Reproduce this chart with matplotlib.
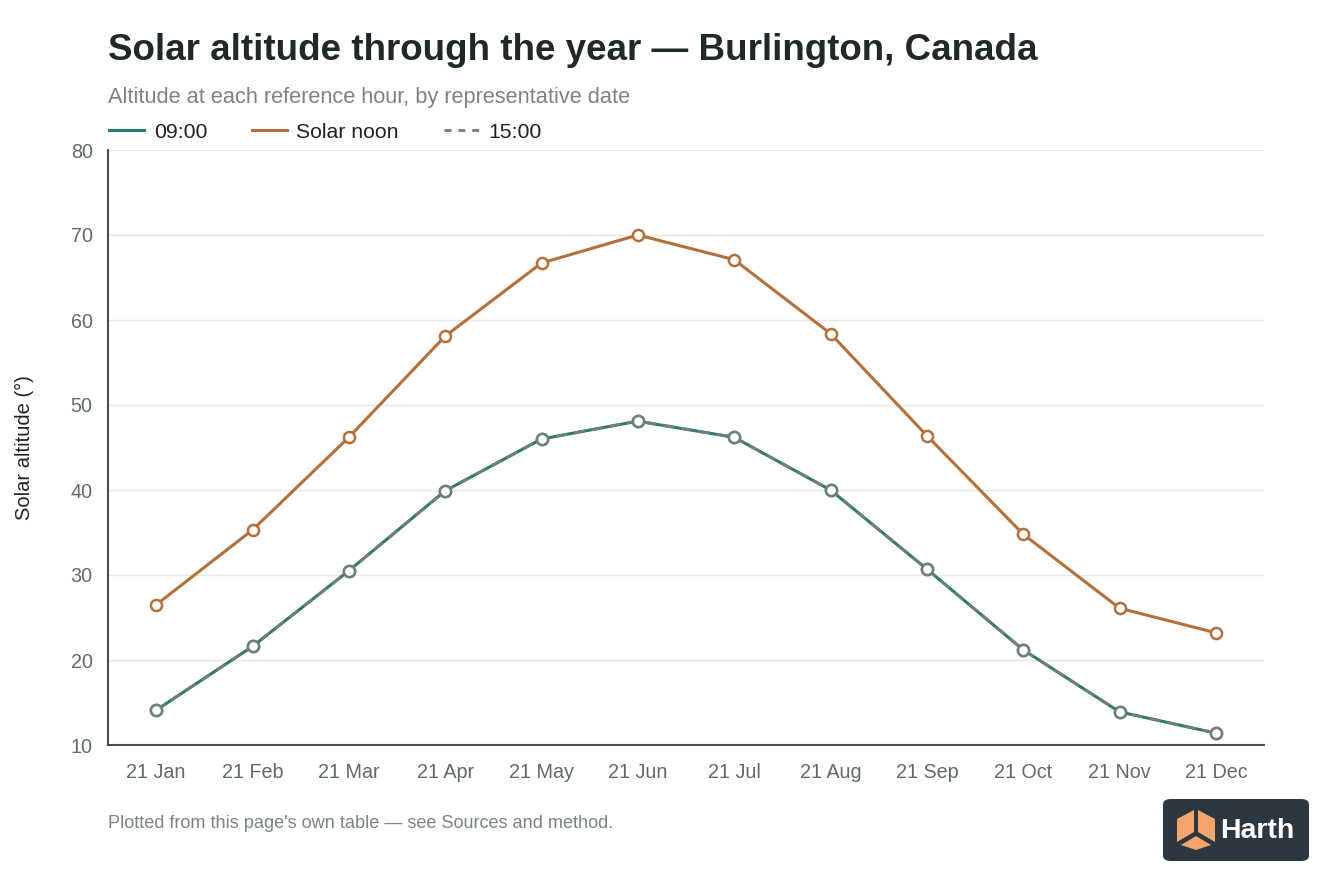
import matplotlib
matplotlib.use("Agg")
import matplotlib.pyplot as plt
from matplotlib.patches import FancyBboxPatch, Polygon
from matplotlib.lines import Line2D

months = ["21 Jan", "21 Feb", "21 Mar", "21 Apr", "21 May", "21 Jun",
          "21 Jul", "21 Aug", "21 Sep", "21 Oct", "21 Nov", "21 Dec"]
alt_0900 = [14.1, 21.6, 30.5, 39.9, 46.0, 48.1, 46.2, 40.0, 30.7, 21.2, 13.9, 11.4]
alt_noon = [26.5, 35.3, 46.2, 58.1, 66.7, 70.0, 67.1, 58.4, 46.4, 34.8, 26.1, 23.2]
alt_1500 = [14.1, 21.6, 30.5, 39.9, 46.0, 48.1, 46.2, 40.0, 30.7, 21.2, 13.9, 11.4]
yticks = [10, 20, 30, 40, 50, 60, 70, 80]

plt.rcParams['font.family'] = ['Liberation Sans', 'DejaVu Sans']

W, H = 1344, 896
fig = plt.figure(figsize=(W / 100, H / 100), dpi=100)
ax = fig.add_axes([108 / W, 1 - 745 / H, (1264 - 108) / W, (745 - 150) / H])

c09 = "#2f7a70"
cnoon = "#b5703a"
c15 = "#6e7f7c"
x = list(range(len(months)))

ax.plot(x, alt_0900, color=c09, lw=2.2, marker="o", ms=8, mfc="white",
        mec=c09, mew=1.8, zorder=3)
ax.plot(x, alt_noon, color=cnoon, lw=2.2, marker="o", ms=8, mfc="white",
        mec=cnoon, mew=1.8, zorder=3)
ax.plot(x, alt_1500, color=c15, lw=2.0, ls=(0, (4, 2.5)), marker="o", ms=8,
        mfc="white", mec=c15, mew=1.8, zorder=4)

ax.set_xlim(-0.5, len(months) - 0.5)
ax.set_ylim(10, 80)
ax.set_yticks(yticks)
ax.set_xticks(x)
ax.set_xticklabels(months)
ax.tick_params(axis="both", length=0, labelsize=14.2, labelcolor="#5f6b6a")
ax.tick_params(axis="x", pad=13)
ax.tick_params(axis="y", pad=11)
ax.grid(axis="y", color="#e6e8e8", lw=1)
ax.set_axisbelow(True)
for s in ["top", "right"]:
    ax.spines[s].set_visible(False)
for s in ["left", "bottom"]:
    ax.spines[s].set_color("#4a4f4f")
    ax.spines[s].set_linewidth(1.5)
ax.set_ylabel("Solar altitude (°)", fontsize=14.5, color="#222", labelpad=26)

fig.text(108 / W, 1 - 50 / H, "Solar altitude through the year — Burlington, Canada",
         fontsize=26.5, fontweight="bold", color="#1f2a27", va="center", ha="left")
fig.text(108 / W, 1 - 97 / H, "Altitude at each reference hour, by representative date",
         fontsize=15.7, color="#7a8583", va="center", ha="left")

handles = [Line2D([], [], color=c09, lw=2.2),
           Line2D([], [], color=cnoon, lw=2.2),
           Line2D([], [], color=c15, lw=2.0, ls=(0, (2.5, 2.5)))]
fig.legend(handles, ["09:00", "Solar noon", "15:00"], loc="center left",
           bbox_to_anchor=(90 / W, 1 - 132 / H), ncol=3, frameon=False,
           fontsize=15.3, handlelength=1.65, handletextpad=0.45, columnspacing=2.1,
           labelcolor="#222")

fig.text(108 / W, 1 - 823 / H, "Plotted from this page's own table — see Sources and method.",
         fontsize=13.1, color="#7a8583", va="center", ha="left")

# logo
box = FancyBboxPatch((1163 / W, 1 - 861 / H), 146 / W, 62 / H,
                     boxstyle="round,pad=0,rounding_size=0.006",
                     transform=fig.transFigure, facecolor="#2c3740",
                     edgecolor="none")
fig.patches.append(box)
cx, cy = 1196, 830
pts_left = [(cx - 19, cy - 11), (cx - 2, cy - 20), (cx - 2, cy + 2), (cx - 19, cy + 12)]
pts_right = [(cx + 2, cy - 20), (cx + 19, cy - 11), (cx + 19, cy + 12), (cx + 2, cy + 2)]
pts_bot = [(cx - 15, cy + 15), (cx, cy + 6), (cx + 15, cy + 15), (cx, cy + 20)]
for pts in (pts_left, pts_right, pts_bot):
    fig.patches.append(Polygon([(px / W, 1 - py / H) for px, py in pts], closed=True,
                               transform=fig.transFigure, facecolor="#f4a66a",
                               edgecolor="none"))
fig.text(1220 / W, 1 - 831 / H, "Harth", fontsize=20.5, fontweight="bold",
         color="white", va="center", ha="left")

fig.savefig("out.png", dpi=100, facecolor="white")
